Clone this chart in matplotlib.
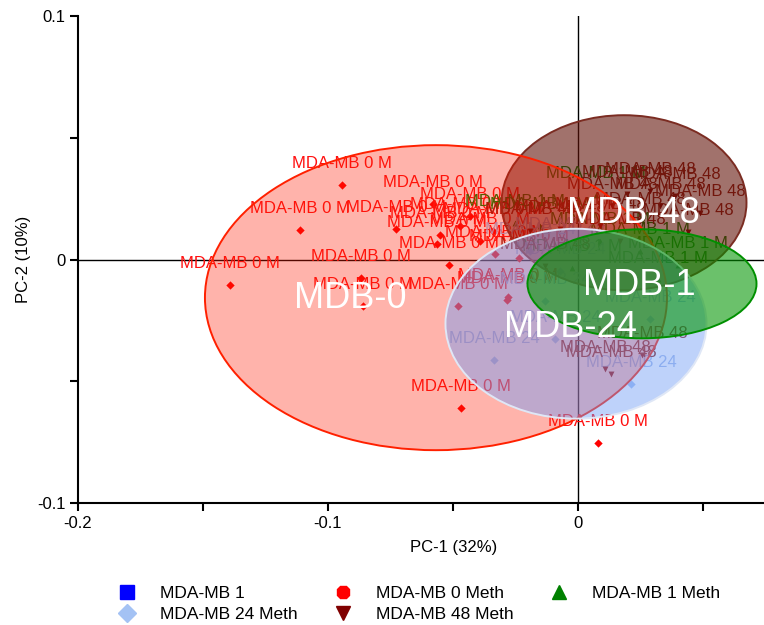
import matplotlib
matplotlib.use("Agg")
import matplotlib.pyplot as plt
from matplotlib.patches import Ellipse
from matplotlib.lines import Line2D

plt.rcParams['font.family'] = ['Liberation Sans', 'DejaVu Sans']
plt.rcParams['axes.unicode_minus'] = False

# scores
x_0meth = [-0.1392, -0.1112, -0.0944, -0.0728, -0.058, -0.0552, -0.0564, -0.0516, -0.0868, -0.086,
           -0.0468, 0.008, -0.048, -0.0284, -0.028, -0.0332, -0.0236, -0.034, -0.0432, -0.0392, -0.0472]
y_0meth = [-0.0103, 0.0123, 0.0308, 0.0127, 0.023, 0.0103, 0.0066, -0.0021, -0.0074, -0.0189,
           -0.0608, -0.0752, -0.0189, -0.0164, -0.0152, 0.0025, 0.0008, 0.0119, 0.0181, 0.0078, 0.014]

x_1meth = [0.0072, -0.0252, -0.0024, -0.0152, 0.0088, 0.0248, 0.040, 0.032]
y_1meth = [0.0267, 0.0152, -0.0033, 0.014, 0.0078, 0.0037, -0.002, -0.008]

x_24meth = [-0.0336, 0.0212, -0.0132, -0.0092, -0.0072, -0.0192, 0.0288, -0.0072]
y_24meth = [-0.0411, -0.0509, -0.0168, -0.0324, 0.0057, 0.0037, -0.0242, -0.0045]

x_48meth = [0.0108, 0.0132, 0.0256, 0.0196, 0.0248, 0.044, 0.0328, 0.0488, 0.0136, 0.0288,
            0.0388, 0.0088, -0.0072, -0.0192, 0.0168, -0.0132]
y_48meth = [-0.0448, -0.0468, -0.039, 0.0271, 0.016, 0.0115, 0.0222, 0.0193, 0.0222, 0.0283,
            0.0263, 0.014, 0.0127, 0.0119, 0.0078, -0.0025]

x_1 = []
y_1 = []

groups = [
    # legend name, point label, x, y, marker, marker colour, label colour
    ("MDA-MB 1", "MDA-MB 1", x_1, y_1, "s", "#0000ff", "#0000ff"),
    ("MDA-MB 0 Meth", "MDA-MB 0 M", x_0meth, y_0meth, "D", "#ff0000", "#ff1010"),
    ("MDA-MB 1 Meth", "MDA-MB 1 M", x_1meth, y_1meth, "^", "#008000", "#008000"),
    ("MDA-MB 24 Meth", "MDA-MB 24", x_24meth, y_24meth, "D", "#a4c2f4", "#a4bcec"),
    ("MDA-MB 48 Meth", "MDA-MB 48", x_48meth, y_48meth, "v", "#800000", "#8a1a10"),
]
legend_marker = {"MDA-MB 1": "s", "MDA-MB 0 Meth": "8", "MDA-MB 1 Meth": "^",
                 "MDA-MB 24 Meth": "D", "MDA-MB 48 Meth": "v"}

# confidence ellipses: name, centre x, centre y, width, height, label x, label y
ell_names = ["MDB-48", "MDB-0", "MDB-24", "MDB-1"]
ell_cx = [0.0184, -0.0568, -0.0008, 0.0256]
ell_cy = [0.0234, -0.0156, -0.0263, -0.0099]
ell_w = [0.098, 0.1848, 0.1044, 0.0916]
ell_h = [0.0719, 0.1253, 0.078, 0.0448]
ell_lx = [0.022, -0.0912, -0.0032, 0.0244]
ell_ly = [0.0189, -0.016, -0.0279, -0.0107]
ell_face = [(0.39, 0.08, 0.04, 0.6), (1.0, 0.1, 0.0, 0.33), (0.435, 0.61, 0.96, 0.45), (0.0, 0.58, 0.0, 0.58)]
ell_edge = ["#7b2c22", "#ff2000", "#dfe7f6", "#009000"]

fig = plt.figure(figsize=(7.64, 6.25), dpi=100)
ax = fig.add_axes([0.102, 0.195, 0.898, 0.779])

ax.axhline(0, color="black", lw=1, zorder=1)
ax.axvline(0, color="black", lw=1, zorder=1)

handles = {}
for name, lab, xs, ys, mk, mc, lc in groups:
    ax.scatter(xs, ys, marker=mk, s=18, color=mc, zorder=2, linewidths=0)
    for xv, yv in zip(xs, ys):
        ax.annotate(lab, (xv, yv), xytext=(0, 21), textcoords="offset pixels",
                    ha="center", va="center", fontsize=12, color=lc, zorder=2)
    lm = legend_marker[name]
    handles[name] = Line2D([], [], ls="none", marker=lm, color=mc,
                           markersize=9 if lm == "D" else 10)

for i in range(len(ell_names)):
    e = Ellipse((ell_cx[i], ell_cy[i]), ell_w[i], ell_h[i], facecolor=ell_face[i],
                edgecolor=ell_edge[i], lw=1.4, zorder=3 + i * 0.1)
    ax.add_patch(e)
    ax.text(ell_lx[i], ell_ly[i], ell_names[i], color="white", fontsize=26,
            ha="center", va="center", zorder=6)

ax.set_xlim(-0.2, 0.0744)
ax.set_ylim(-0.1, 0.1)
ax.set_xticks([-0.2, -0.1, 0])
ax.set_xticklabels(["-0.2", "-0.1", "0"])
ax.set_xticks([-0.15, -0.05, 0.05], minor=True)
ax.set_yticks([-0.1, 0, 0.1])
ax.set_yticklabels(["-0.1", "0", "0.1"])
ax.set_yticks([-0.05, 0.05], minor=True)
ax.tick_params(which="both", direction="out", length=6, width=1.5, labelsize=12, pad=3)
for s in ["top", "right"]:
    ax.spines[s].set_visible(False)
for s in ["left", "bottom"]:
    ax.spines[s].set_linewidth(1.5)
ax.set_xlabel("PC-1 (32%)", fontsize=12)
ax.xaxis.set_label_coords(0.548, -0.075)
ax.set_ylabel("PC-2 (10%)", fontsize=12, labelpad=4)

order = ["MDA-MB 1", "MDA-MB 24 Meth", "MDA-MB 0 Meth", "MDA-MB 48 Meth", "MDA-MB 1 Meth"]
fig.legend([handles[k] for k in order], order, loc="upper center", bbox_to_anchor=(0.55, 0.088),
           ncol=3, frameon=False, fontsize=12.5, handletextpad=1.5, columnspacing=2.2,
           labelspacing=0.35, handlelength=0.8)

fig.savefig("out.png", dpi=100)
